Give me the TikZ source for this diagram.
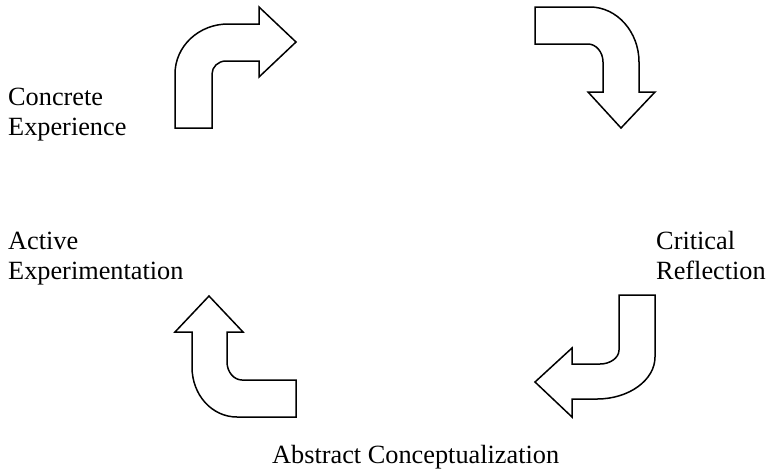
\documentclass[tikz,border=0pt]{standalone}
\usepackage{fontspec}
\setmainfont{Liberation Serif}
\usetikzlibrary{positioning}

\begin{document}
\begin{tikzpicture}[
    x=1pt, y=-1pt,
    stage/.style={inner sep=0pt, anchor=base west, align=left,
      font=\fontsize{26.3}{30}\selectfont},
    bentarrow/.style={draw=black, line width=1.5pt, fill=white, line join=miter},
  ]
    \useasboundingbox (0,0) rectangle (770,472);

    % Labels (anchored on the baseline of the last line)
    \node[stage] (concrete) at (8,135) {Concrete\\Experience};
    \node[stage] (critical) at (656,279) {Critical\\Reflection};
    \node[stage] (abstract) at (272,463) {Abstract Conceptualization};
    \node[stage] (active) at (8,279) {Active\\Experimentation};

    % Arrows
    \draw[bentarrow] (175,128) -- (175,74) .. controls (175,46) and (199,24) .. (228,24)
      -- (259,24) -- (259,7) -- (296,42) -- (259,77) -- (259,61) -- (226,61)
      .. controls (218,61) and (212,67) .. (212,74) -- (212,128) -- cycle;
    \draw[bentarrow] (535,7) -- (590,7) .. controls (617,7) and (639,32) .. (639,62)
      -- (639,92) -- (655,92) -- (621,128) -- (588,92) -- (603,92) -- (603,62)
      .. controls (603,52) and (596,44) .. (588,44) -- (535,44) -- cycle;
    \draw[bentarrow] (655,295) -- (655,357) .. controls (655,380) and (629,399) .. (597,399)
      -- (572,399) -- (572,417) -- (535,382) -- (572,348) -- (572,364) -- (600,364)
      .. controls (610,364) and (619,358) .. (619,350) -- (619,295) -- cycle;
    \draw[bentarrow] (227,332) -- (227,362) .. controls (227,372) and (234,380) .. (242,380)
      -- (296,380) -- (296,417) -- (237,417) .. controls (212,417) and (192,395) .. (192,367)
      -- (192,332) -- (175,332) -- (209,296) -- (243,332) -- cycle;
\end{tikzpicture}
\end{document}
